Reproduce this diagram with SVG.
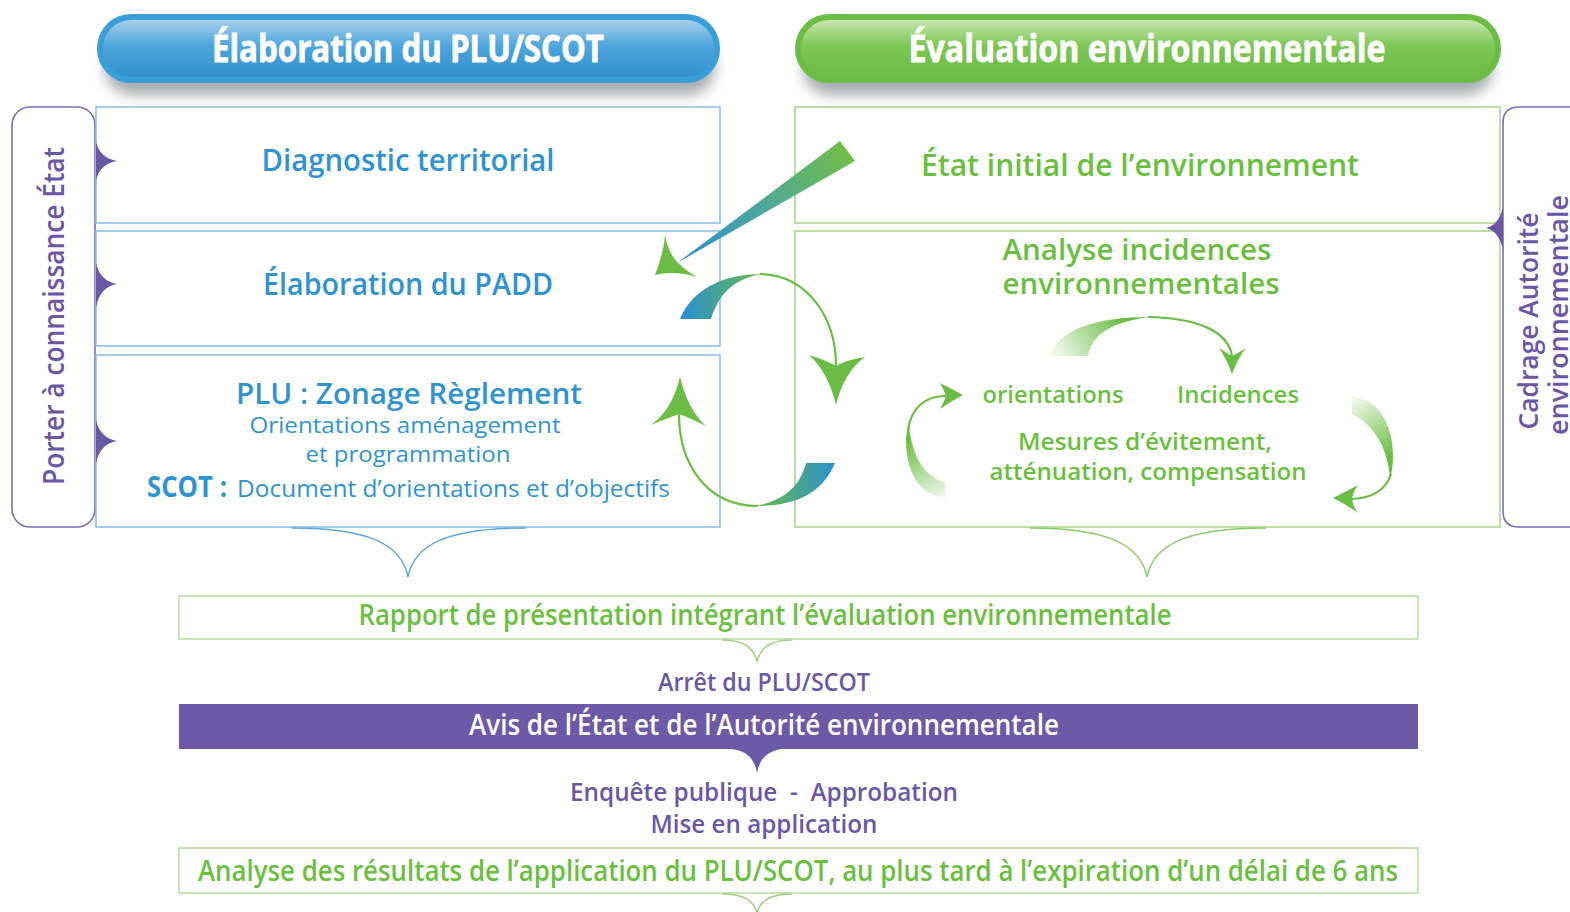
<svg xmlns="http://www.w3.org/2000/svg" width="1570" height="912" viewBox="0 0 1570 912">
<style>
.t{font-family:"Open Sans","Liberation Sans",sans-serif;text-anchor:middle}
.l{font-family:"Open Sans","Liberation Sans",sans-serif}
.b{font-weight:700}
.s{font-weight:600}
.blue{fill:#2f93d0}
.green{fill:#6abf3f}
.purple{fill:#6a58a4}
.white{fill:#ffffff}
.bbox{fill:#ffffff;stroke:#8cc0e6;stroke-width:1.6}
.gbox{fill:#ffffff;stroke:#a9d68e;stroke-width:1.6}
.line{fill:none;stroke:#6cbd45;stroke-width:2.2}
.head{fill:#6cbd45}
.notch{fill:#6a58a4}
</style>
<defs>
<filter id="sh" x="-10%" y="-50%" width="120%" height="200%"><feGaussianBlur stdDeviation="7"/></filter>
<linearGradient id="gBlue" x1="0" y1="0" x2="0" y2="1">
<stop offset="0" stop-color="#a6d0ee"/><stop offset="0.45" stop-color="#4ea6dc"/><stop offset="1" stop-color="#2f8fcb"/>
</linearGradient>
<linearGradient id="gGreen" x1="0" y1="0" x2="0" y2="1">
<stop offset="0" stop-color="#c8e6b0"/><stop offset="0.45" stop-color="#7dc655"/><stop offset="1" stop-color="#6cbd45"/>
</linearGradient>
<linearGradient id="gWedge" gradientUnits="userSpaceOnUse" x1="852" y1="150" x2="678" y2="262">
<stop offset="0" stop-color="#72bf44"/><stop offset="0.5" stop-color="#4ea89a"/><stop offset="1" stop-color="#2a8fd0"/>
</linearGradient>
<linearGradient id="gBandTop" gradientUnits="userSpaceOnUse" x1="682" y1="0" x2="765" y2="0">
<stop offset="0" stop-color="#2a8fd0"/><stop offset="1" stop-color="#6cbd45"/>
</linearGradient>
<linearGradient id="gBandBot" gradientUnits="userSpaceOnUse" x1="835" y1="0" x2="756" y2="0">
<stop offset="0" stop-color="#2a8fd0"/><stop offset="1" stop-color="#6cbd45"/>
</linearGradient>
<linearGradient id="gFadeTop" gradientUnits="userSpaceOnUse" x1="1060" y1="356" x2="1120" y2="318">
<stop offset="0" stop-color="#eef7e8"/><stop offset="1" stop-color="#6cbd45"/>
</linearGradient>
<linearGradient id="gFadeLeft" gradientUnits="userSpaceOnUse" x1="940" y1="497" x2="908" y2="440">
<stop offset="0" stop-color="#eef7e8"/><stop offset="1" stop-color="#6cbd45"/>
</linearGradient>
<linearGradient id="gFadeRight" gradientUnits="userSpaceOnUse" x1="1355" y1="400" x2="1392" y2="455">
<stop offset="0" stop-color="#eef7e8"/><stop offset="1" stop-color="#6cbd45"/>
</linearGradient>
</defs>

<rect width="1570" height="912" fill="#ffffff"/>

<!-- pill shadows -->
<rect x="105" y="40" width="610" height="55" rx="27" fill="#5a6670" opacity="0.55" filter="url(#sh)"/>
<rect x="803" y="40" width="690" height="55" rx="27" fill="#5a6670" opacity="0.55" filter="url(#sh)"/>

<g id="header-plu">
<rect x="97" y="14" width="623" height="69" rx="34" fill="#3a9fd8"/>
<rect x="103" y="20" width="611" height="57" rx="28" fill="url(#gBlue)"/>
<text class="t b white" x="408" y="62" font-size="38" textLength="392" lengthAdjust="spacingAndGlyphs" stroke="#ffffff" stroke-width="0.8">Élaboration du PLU/SCOT</text>
</g>
<g id="header-eval">
<rect x="795" y="14" width="706" height="69" rx="34" fill="#6cbd45"/>
<rect x="801" y="20" width="694" height="57" rx="28" fill="url(#gGreen)"/>
<text class="t b white" x="1147" y="62" font-size="38" textLength="477" lengthAdjust="spacingAndGlyphs" stroke="#ffffff" stroke-width="0.8">Évaluation environnementale</text>
</g>

<g id="tab-porter">
<rect x="12" y="107" width="83" height="420" rx="18" fill="#ffffff" stroke="#7c6db5" stroke-width="1.6"/>
<text class="t s purple" transform="translate(64,316) rotate(-90)" font-size="29" textLength="338" lengthAdjust="spacingAndGlyphs">Porter à connaissance État</text>
</g>
<g id="tab-cadrage">
<path d="M1572,107 L1519,107 Q1503,107 1503,123 L1503,511 Q1503,527 1519,527 L1572,527" fill="none" stroke="#7c6db5" stroke-width="1.6"/>
<text class="t s purple" transform="translate(1538,321) rotate(-90)" font-size="27" textLength="217" lengthAdjust="spacingAndGlyphs">Cadrage Autorité</text>
<text class="t s purple" transform="translate(1568,315) rotate(-90)" font-size="27" textLength="240" lengthAdjust="spacingAndGlyphs">environnementale</text>
</g>

<g id="box-diagnostic">
<rect class="bbox" x="96" y="107" width="624" height="116"/>
<text class="t s blue" x="408" y="171" font-size="30" textLength="293" lengthAdjust="spacingAndGlyphs">Diagnostic territorial</text>
</g>
<g id="box-padd">
<rect class="bbox" x="96" y="231" width="624" height="115"/>
<text class="t s blue" x="408" y="295" font-size="30" textLength="290" lengthAdjust="spacingAndGlyphs">Élaboration du PADD</text>
</g>
<g id="box-plu">
<rect class="bbox" x="96" y="355" width="624" height="172"/>
<text class="t s blue" x="409" y="404" font-size="28" textLength="346" lengthAdjust="spacingAndGlyphs">PLU : Zonage Règlement</text>
<text class="t blue" x="405" y="433" font-size="22" textLength="311" lengthAdjust="spacingAndGlyphs">Orientations aménagement</text>
<text class="t blue" x="408" y="462" font-size="22" textLength="205" lengthAdjust="spacingAndGlyphs">et programmation</text>
<text class="l b blue" x="147" y="497" font-size="28" textLength="80" lengthAdjust="spacingAndGlyphs">SCOT :</text>
<text class="l blue" x="237" y="497" font-size="23" textLength="433" lengthAdjust="spacingAndGlyphs">Document d’orientations et d’objectifs</text>
</g>
<!-- notches on left tab -->
<path class="notch" d="M96,142 Q100,158 117,161 Q100,164 96,180 Z"/>
<path class="notch" d="M96,263 Q100,281 117,284 Q100,287 96,307 Z"/>
<path class="notch" d="M96,420 Q100,438 117,441 Q100,444 96,463 Z"/>

<g id="box-etat">
<rect class="gbox" x="795" y="107" width="705" height="116"/>
<text class="t s green" x="1140" y="176" font-size="30" textLength="438" lengthAdjust="spacingAndGlyphs">État initial de l’environnement</text>
</g>
<g id="box-analyse">
<rect class="gbox" x="795" y="231" width="705" height="296" stroke="#8fcb6c"/>
<text class="t s green" x="1137" y="260" font-size="28" textLength="269" lengthAdjust="spacingAndGlyphs">Analyse incidences</text>
<text class="t s green" x="1141" y="294" font-size="28" textLength="277" lengthAdjust="spacingAndGlyphs">environnementales</text>
<text class="t s green" x="1053" y="403" font-size="24" textLength="141" lengthAdjust="spacingAndGlyphs">orientations</text>
<text class="t s green" x="1238" y="403" font-size="24" textLength="122" lengthAdjust="spacingAndGlyphs">Incidences</text>
<text class="t s green" x="1145" y="450" font-size="24" textLength="254" lengthAdjust="spacingAndGlyphs">Mesures d’évitement,</text>
<text class="t s green" x="1148" y="480" font-size="24" textLength="317" lengthAdjust="spacingAndGlyphs">atténuation, compensation</text>
</g>
<path class="notch" d="M1503,207 Q1499,225 1486,228 Q1499,231 1503,250 Z"/>

<g id="box-rapport">
<rect x="179" y="596" width="1239" height="43" fill="#ffffff" stroke="#b9dfa3" stroke-width="1.6"/>
<text class="t s green" x="765" y="625" font-size="28" textLength="813" lengthAdjust="spacingAndGlyphs">Rapport de présentation intégrant l’évaluation environnementale</text>
</g>
<g id="label-arret">
<text class="t s purple" x="764" y="691" font-size="26" textLength="212" lengthAdjust="spacingAndGlyphs">Arrêt du PLU/SCOT</text>
</g>
<g id="bar-avis">
<rect x="179" y="704" width="1239" height="45" fill="#6d5aa7"/>
<path d="M722,748 C746,749 754,757 757,773 C760,757 768,749 792,748 Z" fill="#6d5aa7"/>
<text class="t s white" x="764" y="735" font-size="28" textLength="590" lengthAdjust="spacingAndGlyphs">Avis de l’État et de l’Autorité environnementale</text>
</g>
<g id="label-enquete">
<text class="t s purple" x="764" y="801" font-size="25" textLength="388" lengthAdjust="spacingAndGlyphs">Enquête publique &#160;-&#160; Approbation</text>
<text class="t s purple" x="764" y="833" font-size="25" textLength="227" lengthAdjust="spacingAndGlyphs">Mise en application</text>
</g>
<g id="box-resultats">
<rect x="179" y="848" width="1239" height="45" fill="#ffffff" stroke="#b9dfa3" stroke-width="1.6"/>
<text class="t s green" x="798" y="881" font-size="28" textLength="1200" lengthAdjust="spacingAndGlyphs">Analyse des résultats de l’application du PLU/SCOT, au plus tard à l’expiration d’un délai de 6 ans</text>
</g>

<g id="connectors">
<!-- braces -->
<path d="M292,528 C372,528 402,546 408,577 C414,546 444,528 526,528" fill="none" stroke="#5fa8dc" stroke-width="1.5"/>
<path d="M1030,528 C1110,528 1141,546 1147,577 C1153,546 1184,528 1266,528" fill="none" stroke="#8fcb6c" stroke-width="1.5"/>
<path d="M722,640 C745,640 753,648 757,661 C761,648 769,640 792,640" fill="none" stroke="#9fd080" stroke-width="1.5"/>
<path d="M722,894 C745,894 753,901 757,912 C761,901 769,894 792,894" fill="none" stroke="#9fd080" stroke-width="1.5"/>

<!-- wedge arrow État initial -> PADD -->
<path d="M840,141 L855,161 L677,263 Z" fill="url(#gWedge)"/>
<path class="head" d="M655,275 Q664,252 665,235 Q668,252 677,262 Q686,271 697,277 Q674,270 655,275 Z"/>

<!-- PADD -> analyse -->
<path d="M680,319 C692,290 722,274 762,274 C732,279 718,296 711,319 Z" fill="url(#gBandTop)"/>
<path class="line" d="M760,274 C808,275 836,318 836,366"/>
<path class="head" d="M836,405 Q828,372 809,355 Q826,360 836,366 Q846,360 865,357 Q844,372 836,405 Z"/>

<!-- analyse -> PLU -->
<path d="M835,463 C822,494 795,506 756,506 C785,500 800,486 806,463 Z" fill="url(#gBandBot)"/>
<path class="line" d="M758,506 C705,506 679,462 679,414"/>
<path class="head" d="M680,377 Q688,410 706,426 Q690,418 679,414 Q668,418 651,425 Q672,410 680,377 Z"/>

<!-- cycle: orientations -> Incidences -->
<path d="M1050,356 C1058,330 1095,317 1150,317 C1110,322 1092,335 1088,356 Z" fill="url(#gFadeTop)"/>
<path class="line" d="M1148,317 C1195,318 1228,330 1232,356"/>
<path class="head" d="M1232,374 Q1226,358 1219,348 Q1227,353 1232,356 Q1238,353 1246,348 Q1238,358 1232,374 Z"/>

<!-- cycle: Incidences -> Mesures -->
<path d="M1352,397 C1378,398 1393,425 1393,455 C1393,465 1392,472 1390,478 C1388,450 1375,425 1352,414 Z" fill="url(#gFadeRight)"/>
<path class="line" d="M1391,474 C1386,490 1372,498 1352,499"/>
<path class="head" d="M1333,498 Q1347,491 1358,485 Q1353,492 1352,499 Q1353,506 1358,513 Q1347,505 1333,498 Z"/>

<!-- cycle: Mesures -> orientations -->
<path d="M945,498 C918,495 906,470 906,440 C906,434 907,430 909,426 C912,456 925,478 945,482 Z" fill="url(#gFadeLeft)"/>
<path class="line" d="M908,430 C911,408 925,396 946,396"/>
<path class="head" d="M963,395 Q950,388 940,383 Q944,390 946,396 Q944,402 940,409 Q950,402 963,395 Z"/>
</g>
</svg>
